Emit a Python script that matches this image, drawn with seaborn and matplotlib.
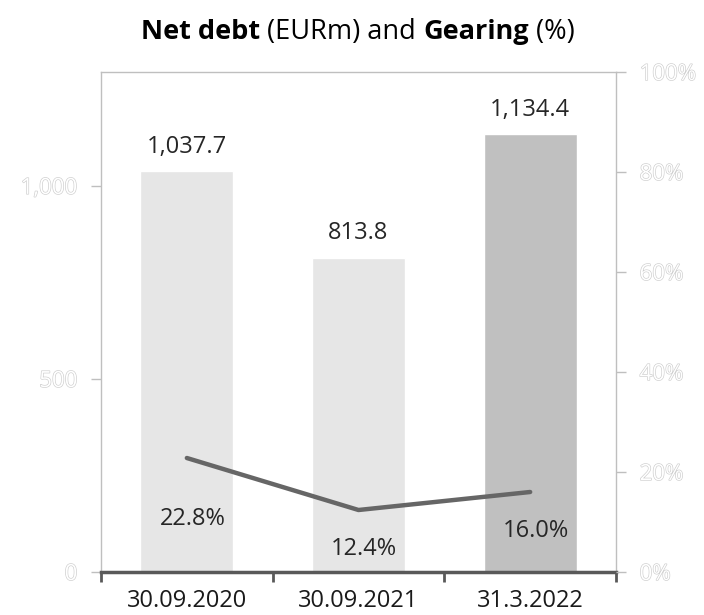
import matplotlib
matplotlib.use("Agg")
import matplotlib.pyplot as plt
import matplotlib.patheffects as pe
import seaborn as sns
import pandas as pd
import numpy as np

categories = ["30.09.2020", "30.09.2021", "31.3.2022"]
net_debt = [1037.7, 813.8, 1134.4]
gearing = [22.8, 12.4, 16.0]
net_debt_labels = ["1,037.7", "813.8", "1,134.4"]
gearing_labels = ["22.8%", "12.4%", "16.0%"]
left_ticks = [0, 500, 1000]
left_tick_labels = ["0", "500", "1,000"]
right_ticks = [0, 20, 40, 60, 80, 100]
right_tick_labels = ["0%", "20%", "40%", "60%", "80%", "100%"]
bar_colors = ["#e6e6e6", "#e6e6e6", "#c0c0c0"]

sns.set_theme(style="white")
plt.rcParams["font.family"] = ["Open Sans", "DejaVu Sans"]

fig = plt.figure(figsize=(7.04, 6.15), dpi=100)
ax = fig.add_axes([101/704, 1-572/615, (616-101)/704, (572-72)/615])

df = pd.DataFrame({"cat": categories, "debt": net_debt})
sns.barplot(data=df, x="cat", y="debt", hue="cat", palette=bar_colors,
            width=0.54, legend=False, ax=ax, saturation=1)
ax.set_xlim(-0.5, 2.5)
ax.set_ylim(0, 1295)
ax.set_xlabel("")
ax.set_ylabel("")

hollow = [pe.withStroke(linewidth=0.9, foreground="#cccccc")]
ax.set_yticks(left_ticks)
ax.set_yticklabels(left_tick_labels)
for t in ax.get_yticklabels():
    t.set_color("white")
    t.set_fontsize(16)
    t.set_path_effects(hollow)
ax.tick_params(axis="y", left=True, length=7, width=1, color="#bfbfbf", pad=10)

# category boundary ticks on bottom
ax.set_xticks([-0.5, 0.5, 1.5, 2.5], minor=True)
ax.set_xticks(range(len(categories)))
ax.set_xticklabels(categories, fontsize=17, color="#1a1a1a")
ax.tick_params(axis="x", which="major", bottom=False, pad=6)
ax.tick_params(axis="x", which="minor", bottom=True, length=7, width=2, color="#595959")

for s in ["left", "top", "right"]:
    ax.spines[s].set_color("#bfbfbf")
    ax.spines[s].set_linewidth(1)
ax.spines["bottom"].set_color("#595959")
ax.spines["bottom"].set_linewidth(2.5)

for i, (v, lab) in enumerate(zip(net_debt, net_debt_labels)):
    ax.annotate(lab, (i, v), xytext=(0, 9), textcoords="offset points",
                ha="center", va="bottom", fontsize=17, color="#262626")

ax2 = ax.twinx()
sns.lineplot(x=list(range(len(categories))), y=gearing, ax=ax2,
             color="#666666", linewidth=3.2)
ax2.set_ylim(0, 100)
ax2.set_xlim(-0.5, 2.5)
ax2.set_yticks(right_ticks)
ax2.set_yticklabels(right_tick_labels)
for t in ax2.get_yticklabels():
    t.set_color("white")
    t.set_fontsize(16)
    t.set_path_effects(hollow)
ax2.tick_params(axis="y", right=True, length=7, width=1, color="#bfbfbf", pad=10)
for s in ["left", "top", "right", "bottom"]:
    ax2.spines[s].set_visible(False)
ax2.set_ylabel("")

label_offsets = [(4, -44), (4, -28), (4, -28)]
for i, (v, lab) in enumerate(zip(gearing, gearing_labels)):
    ax2.annotate(lab, (i, v), xytext=label_offsets[i], textcoords="offset points",
                 ha="center", va="center", fontsize=17, color="#262626")

# title with mixed weights
pieces = [("Net debt", "bold"), (" (EURm) and ", "normal"), ("Gearing", "bold"), (" (%)", "normal")]
fig.canvas.draw()
renderer = fig.canvas.get_renderer()
texts = []
widths = []
for s, w in pieces:
    t = fig.text(0, 0, s, fontsize=19.5, fontweight=w, color="black", va="baseline")
    bb = t.get_window_extent(renderer)
    texts.append(t)
    widths.append(bb.width)
total = sum(widths)
x0 = 358 - total / 2
for t, w in zip(texts, widths):
    t.set_position((x0 / 704, 1 - 39 / 615))
    x0 += w

fig.savefig("out.png", dpi=100)
